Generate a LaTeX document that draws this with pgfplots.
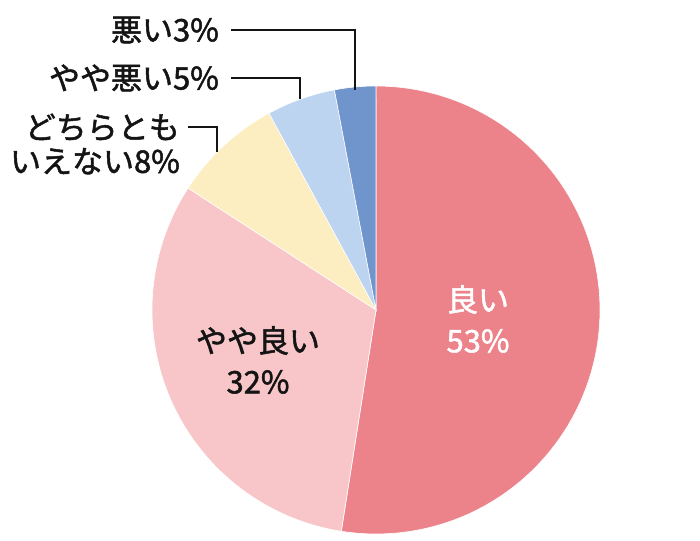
\documentclass[border=0pt]{standalone}
\usepackage{fontspec}
\setmainfont{Noto Sans CJK JP}[BoldFont=Noto Sans CJK JP, BoldFeatures={FakeBold=1.6}]
\usepackage{pgfplots}
\pgfplotsset{compat=1.18}

\definecolor{cGood}{HTML}{EC828A}
\definecolor{cFair}{HTML}{F8C6C8}
\definecolor{cMid}{HTML}{FCEEC0}
\definecolor{cPoor}{HTML}{BCD4F0}
\definecolor{cBad}{HTML}{7094CC}
\definecolor{ink}{HTML}{141414}

% shares in percent (they add up to 101, so angles are scaled by the total)
\def\vGood{53}
\def\vFair{32}
\def\vMid{8}
\def\vPoor{5}
\def\vBad{3}
\pgfmathsetmacro\tot{\vGood+\vFair+\vMid+\vPoor+\vBad}
\pgfmathsetmacro\aA{90-\vGood/\tot*360}
\pgfmathsetmacro\aB{\aA-\vFair/\tot*360}
\pgfmathsetmacro\aC{\aB-\vMid/\tot*360}
\pgfmathsetmacro\aD{\aC-\vPoor/\tot*360}
\pgfmathsetmacro\aE{\aD-\vBad/\tot*360}

\begin{document}
\begin{tikzpicture}
\useasboundingbox (0,0) rectangle (700pt,540pt);
\begin{axis}[
  scale only axis, width=700pt, height=540pt,
  xmin=0, xmax=700, ymin=0, ymax=540,
  hide axis, clip=false,
  every axis plot/.append style={draw=white, line width=0.6pt, samples=90},
]
% centre (376,230), radius 224
\addplot[fill=cGood, domain=\aA:90] ({376+224*cos(x)},{230+224*sin(x)}) -- (axis cs:376,230) -- cycle;
\addplot[fill=cFair, domain=\aB:\aA] ({376+224*cos(x)},{230+224*sin(x)}) -- (axis cs:376,230) -- cycle;
\addplot[fill=cMid, domain=\aC:\aB] ({376+224*cos(x)},{230+224*sin(x)}) -- (axis cs:376,230) -- cycle;
\addplot[fill=cPoor, domain=\aD:\aC] ({376+224*cos(x)},{230+224*sin(x)}) -- (axis cs:376,230) -- cycle;
\addplot[fill=cBad, domain=\aE:\aD] ({376+224*cos(x)},{230+224*sin(x)}) -- (axis cs:376,230) -- cycle;

\tikzset{lbl/.style={font=\fontsize{31}{41}\selectfont\bfseries, inner sep=0pt}}
\node[lbl, white, align=center] at (axis cs:478,221) {良い\\53\%};
\node[lbl, ink, align=center] at (axis cs:258,180) {やや良い\\32\%};

\node[lbl, ink, anchor=east] at (axis cs:219,510) {悪い3\%};
\node[lbl, ink, anchor=east] at (axis cs:219,462) {やや悪い5\%};
\node[lbl, ink, align=right, anchor=east, font=\fontsize{31}{34}\selectfont\bfseries] at (axis cs:180,396) {どちらとも\\いえない8\%};

\draw[ink, line width=1.8pt] (axis cs:231,510) -- (axis cs:355,510) -- (axis cs:355,450);
\draw[ink, line width=1.8pt] (axis cs:231,462) -- (axis cs:300,462) -- (axis cs:300,441);
\draw[ink, line width=1.8pt] (axis cs:188,413) -- (axis cs:217,413) -- (axis cs:217,388);
\end{axis}
\end{tikzpicture}
\end{document}
